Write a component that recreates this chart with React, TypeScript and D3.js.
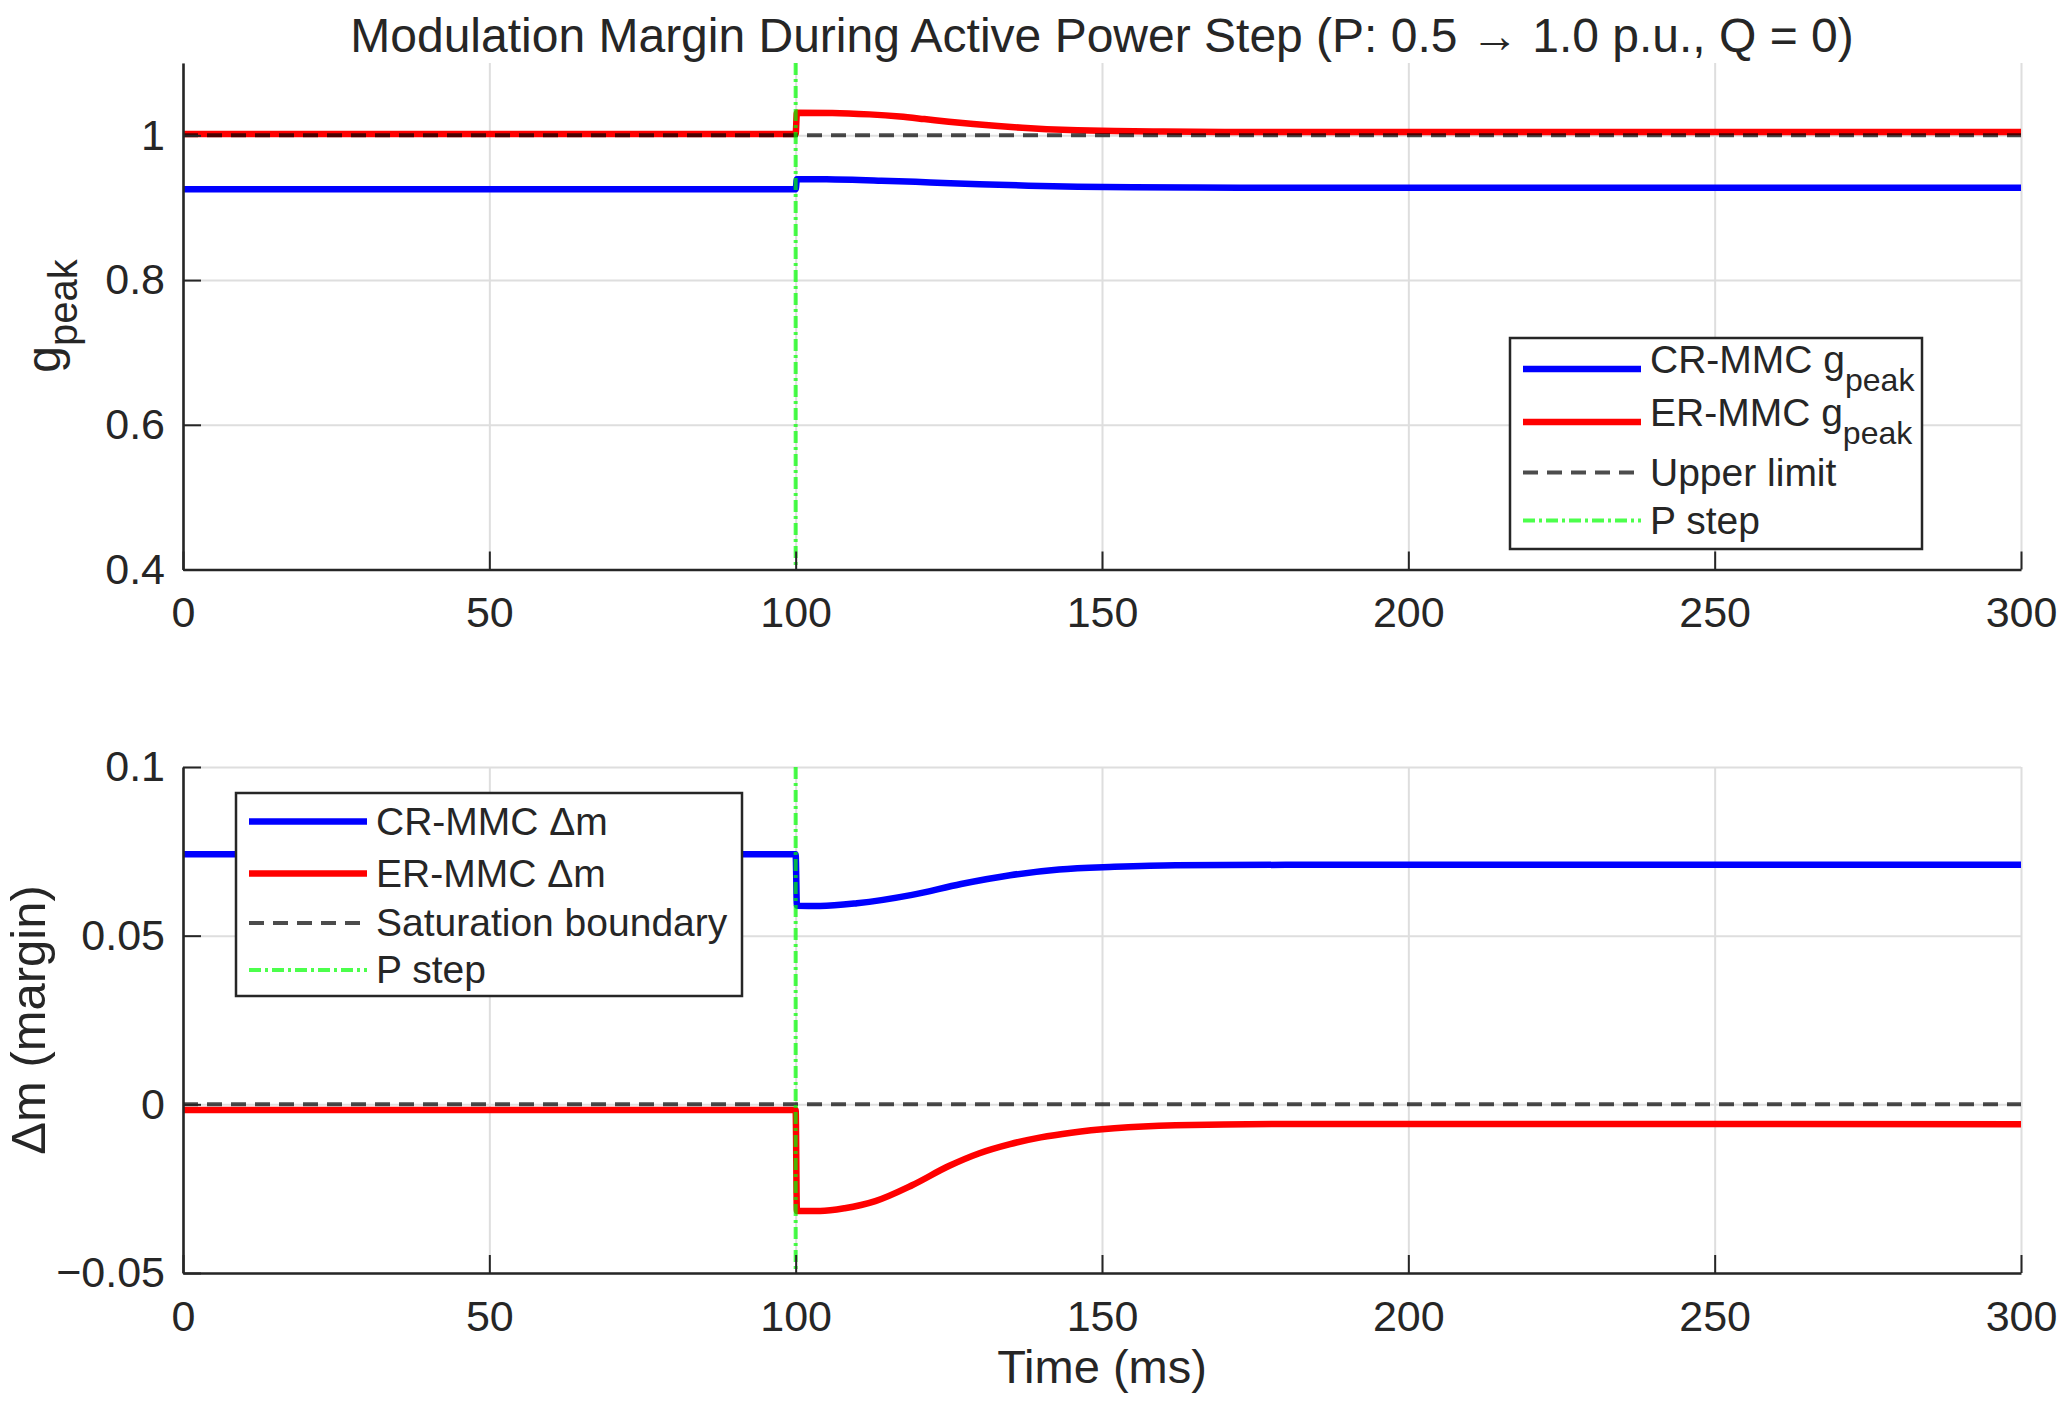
import React, { useEffect, useRef } from "react";
import * as d3 from "d3";

type Pt = [number, number];

// ---- data ----
const timeTicks = [0, 50, 100, 150, 200, 250, 300];
const gpeakTicks = [0.4, 0.6, 0.8, 1];
const marginTicks = [-0.05, 0, 0.05, 0.1];

const stepTime = 100;
const upperLimit = 1;
const saturationBoundary = 0;

// [time ms, value]
const crGpeak: Pt[] = [
  [0, 0.9255], [100, 0.9255], [100.2, 0.9395], [105, 0.9393], [114, 0.9374],
  [122, 0.935], [130, 0.9324], [138, 0.9305], [146, 0.929], [155, 0.9282],
  [165, 0.9279], [180, 0.9277], [220, 0.9277], [300, 0.9277],
];

const erGpeak: Pt[] = [
  [0, 1.002], [100, 1.002], [100.2, 1.0313], [106, 1.031], [112, 1.029],
  [117, 1.026], [121, 1.0225], [125, 1.0188], [129, 1.0156], [133, 1.0128],
  [137, 1.0104], [141, 1.0086], [146, 1.007], [152, 1.0059], [160, 1.0052],
  [170, 1.0047], [180, 1.0045], [300, 1.0045],
];

const crMargin: Pt[] = [
  [0, 0.0741], [100, 0.0741], [100.2, 0.0589], [104, 0.0588], [110, 0.0596],
  [119, 0.0621], [127, 0.0653], [135, 0.0679], [143, 0.0696], [152, 0.0704],
  [162, 0.0709], [180, 0.071], [300, 0.071],
];

const erMargin: Pt[] = [
  [0, -0.0017], [100, -0.0017], [100.2, -0.0316], [104, -0.0316], [108, -0.0308],
  [113, -0.0287], [119, -0.024], [125, -0.0183], [130, -0.0145], [135, -0.0118],
  [140, -0.0098], [145, -0.0084], [152, -0.0071], [162, -0.0062], [180, -0.0058],
  [220, -0.0058], [300, -0.0059],
];

// ---- layout ----
const W = 2062;
const H = 1402;
const plotLeft = 183;
const plotRight = 2021;
const font = "Arial, 'Liberation Sans', Helvetica, sans-serif";
const ink = "#262626";

const styles = {
  cr: { color: "#0000ff", width: 6.5, dash: null, opacity: 1 },
  er: { color: "#ff0000", width: 6.5, dash: null, opacity: 1 },
  ref: { color: "#000000", width: 4, dash: "15,9", opacity: 0.7 },
  step: { color: "#00ff00", width: 4, dash: "12,4,3,4", opacity: 0.7 },
};

interface LegendEntry {
  label: string;
  sub?: string;
  style: keyof typeof styles;
}

const fmtTick = (d: number) => (d < 0 ? "\u2212" + Math.abs(d) : String(d));

function drawPanel(
  svg: d3.Selection<SVGSVGElement, unknown, null, undefined>,
  cfg: {
    top: number;
    bottom: number;
    domain: [number, number];
    yTicks: number[];
    cr: Pt[];
    er: Pt[];
    ref: number;
    legend: { x: number; y: number; w: number; rows: number[]; pad: number; entries: LegendEntry[] };
  }
) {
  const x = d3.scaleLinear().domain([0, 300]).range([plotLeft, plotRight]);
  const y = d3.scaleLinear().domain(cfg.domain).range([cfg.bottom, cfg.top]);
  const g = svg.append("g");

  // grid
  g.append("g")
    .attr("transform", `translate(0,${cfg.bottom})`)
    .call(d3.axisBottom(x).tickValues(timeTicks).tickSize(-(cfg.bottom - cfg.top)).tickFormat(() => ""))
    .call((a) => a.select(".domain").remove())
    .selectAll("line")
    .attr("stroke", "#dedede")
    .attr("stroke-width", 2);
  g.append("g")
    .attr("transform", `translate(${plotLeft},0)`)
    .call(d3.axisLeft(y).tickValues(cfg.yTicks).tickSize(-(plotRight - plotLeft)).tickFormat(() => ""))
    .call((a) => a.select(".domain").remove())
    .selectAll("line")
    .attr("stroke", "#dedede")
    .attr("stroke-width", 2);

  const line = d3
    .line<Pt>()
    .x((d) => x(d[0]))
    .y((d) => y(d[1]))
    .curve(d3.curveMonotoneX);

  const drawLine = (pts: Pt[], key: keyof typeof styles) => {
    const s = styles[key];
    g.append("path")
      .attr("d", line(pts))
      .attr("fill", "none")
      .attr("stroke", s.color)
      .attr("stroke-width", s.width)
      .attr("stroke-opacity", s.opacity)
      .attr("stroke-dasharray", s.dash)
      .attr("stroke-linejoin", "round");
  };

  drawLine(cfg.er, "er");
  drawLine(cfg.cr, "cr");
  drawLine(
    x.domain().map((t) => [t, cfg.ref] as Pt),
    "ref"
  );
  g.append("line")
    .attr("x1", x(stepTime))
    .attr("x2", x(stepTime))
    .attr("y1", cfg.top)
    .attr("y2", cfg.bottom)
    .attr("stroke", styles.step.color)
    .attr("stroke-width", styles.step.width)
    .attr("stroke-opacity", styles.step.opacity)
    .attr("stroke-dasharray", styles.step.dash);

  // axes
  const xAxis = g
    .append("g")
    .attr("transform", `translate(0,${cfg.bottom})`)
    .call(d3.axisBottom(x).tickValues(timeTicks).tickSize(-18).tickSizeOuter(0).tickPadding(27).tickFormat((d) => String(d)));
  const yAxis = g
    .append("g")
    .attr("transform", `translate(${plotLeft},0)`)
    .call(d3.axisLeft(y).tickValues(cfg.yTicks).tickSize(-18).tickSizeOuter(0).tickPadding(18).tickFormat((d) => fmtTick(+d)));
  [xAxis, yAxis].forEach((a) => {
    a.attr("font-family", font).attr("font-size", 43);
    a.select(".domain").attr("stroke", ink).attr("stroke-width", 2.6);
    a.selectAll(".tick line").attr("stroke", ink).attr("stroke-width", 2);
    a.selectAll("text").attr("fill", ink);
  });

  // legend
  const L = cfg.legend;
  const total = L.rows.reduce((s, r) => s + r, 0) + 2 * L.pad;
  const lg = g.append("g");
  lg.append("rect")
    .attr("x", L.x)
    .attr("y", L.y)
    .attr("width", L.w)
    .attr("height", total)
    .attr("fill", "#fff")
    .attr("stroke", ink)
    .attr("stroke-width", 2.5);
  let cy = L.y + L.pad;
  L.entries.forEach((e, i) => {
    const c = cy + L.rows[i] / 2;
    cy += L.rows[i];
    const s = styles[e.style];
    lg.append("line")
      .attr("x1", L.x + 13)
      .attr("x2", L.x + 131)
      .attr("y1", c)
      .attr("y2", c)
      .attr("stroke", s.color)
      .attr("stroke-width", s.width)
      .attr("stroke-opacity", s.opacity)
      .attr("stroke-dasharray", s.dash);
    const t = lg
      .append("text")
      .attr("x", L.x + 140)
      .attr("y", c + (e.sub ? 4 : 13))
      .attr("font-family", font)
      .attr("font-size", 39)
      .attr("fill", ink);
    t.append("tspan").text(e.label);
    if (e.sub) t.append("tspan").attr("dy", 18).attr("font-size", 32).text(e.sub);
  });
}

const App: React.FC = () => {
  const svgRef = useRef<SVGSVGElement | null>(null);

  useEffect(() => {
    document.body.style.margin = "0";
    const svg = d3.select(svgRef.current!);
    svg.selectAll("*").remove();

    drawPanel(svg, {
      top: 63,
      bottom: 569.5,
      domain: [0.4, 1.1],
      yTicks: gpeakTicks,
      cr: crGpeak,
      er: erGpeak,
      ref: upperLimit,
      legend: {
        x: 1510,
        y: 338,
        w: 412,
        rows: [53, 53, 48, 48],
        pad: 4.5,
        entries: [
          { label: "CR-MMC g", sub: "peak", style: "cr" },
          { label: "ER-MMC g", sub: "peak", style: "er" },
          { label: "Upper limit", style: "ref" },
          { label: "P step", style: "step" },
        ],
      },
    });

    drawPanel(svg, {
      top: 767,
      bottom: 1273,
      domain: [-0.05, 0.1],
      yTicks: marginTicks,
      cr: crMargin,
      er: erMargin,
      ref: saturationBoundary,
      legend: {
        x: 236,
        y: 793,
        w: 506,
        rows: [52, 52, 47, 47],
        pad: 2.5,
        entries: [
          { label: "CR-MMC \u0394m", style: "cr" },
          { label: "ER-MMC \u0394m", style: "er" },
          { label: "Saturation boundary", style: "ref" },
          { label: "P step", style: "step" },
        ],
      },
    });

    const cx = (plotLeft + plotRight) / 2;

    // title
    svg.append("text")
      .attr("x", cx)
      .attr("y", 52)
      .attr("text-anchor", "middle")
      .attr("font-family", font)
      .attr("font-size", 48)
      .attr("fill", ink)
      .text("Modulation Margin During Active Power Step (P: 0.5 \u2192 1.0 p.u., Q = 0)");

    // x label
    svg.append("text")
      .attr("x", cx)
      .attr("y", 1383)
      .attr("text-anchor", "middle")
      .attr("font-family", font)
      .attr("font-size", 47)
      .attr("fill", ink)
      .text("Time (ms)");

    // y labels
    const yl1 = svg.append("text")
      .attr("transform", `translate(60,316) rotate(-90)`)
      .attr("text-anchor", "middle")
      .attr("font-family", font)
      .attr("font-size", 48)
      .attr("fill", ink);
    yl1.append("tspan").text("g");
    yl1.append("tspan").attr("dy", 17).attr("font-size", 40).text("peak");

    svg.append("text")
      .attr("transform", `translate(45,1020) rotate(-90)`)
      .attr("text-anchor", "middle")
      .attr("font-family", font)
      .attr("font-size", 49)
      .attr("fill", ink)
      .text("\u0394m (margin)");
  }, []);

  return <svg ref={svgRef} width={W} height={H} style={{ display: "block", background: "#fff" }} />;
};

export default App;
